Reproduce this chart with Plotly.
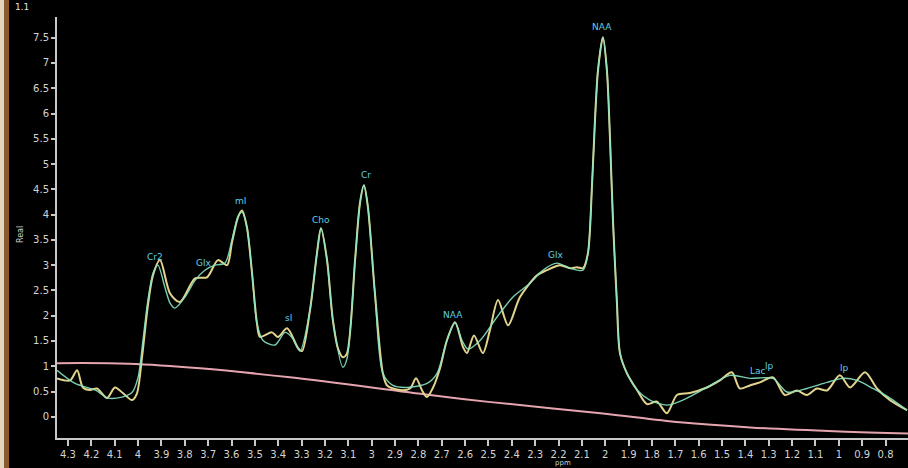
import plotly.graph_objects as go

# ---- data ----
fit_ppm = [4.347, 4.270, 4.184, 4.129, 4.069, 4.026, 4.000, 3.979, 3.958, 3.936,
           3.915, 3.885, 3.863, 3.842, 3.799, 3.756, 3.714, 3.671, 3.628, 3.598,
           3.572, 3.555, 3.534, 3.512, 3.491, 3.465, 3.414, 3.371, 3.341, 3.307,
           3.264, 3.234, 3.217, 3.191, 3.166, 3.123, 3.106, 3.071, 3.050, 3.033,
           3.016, 2.986, 2.952, 2.909, 2.849, 2.763, 2.720, 2.678, 2.643, 2.613,
           2.588, 2.536, 2.464, 2.395, 2.322, 2.267, 2.207, 2.151, 2.095, 2.074,
           2.057, 2.044, 2.031, 2.010, 1.993, 1.980, 1.967, 1.950, 1.937, 1.907,
           1.864, 1.809, 1.736, 1.668, 1.565, 1.466, 1.381, 1.282, 1.222, 1.137,
           1.051, 0.982, 0.922, 0.854, 0.781, 0.708]
fit_val = [0.92, 0.66, 0.53, 0.37, 0.39, 0.48, 0.78, 1.51, 2.30, 2.84,
           3.00, 2.56, 2.25, 2.15, 2.37, 2.70, 2.90, 3.00, 3.04, 3.50,
           3.96, 4.05, 3.75, 2.84, 1.85, 1.51, 1.42, 1.67, 1.57, 1.30,
           2.11, 3.24, 3.73, 3.10, 1.91, 0.98, 1.14, 3.10, 4.23, 4.58,
           4.15, 2.44, 0.86, 0.62, 0.58, 0.66, 0.86, 1.51, 1.86, 1.51,
           1.34, 1.51, 1.97, 2.37, 2.64, 2.90, 3.04, 2.94, 2.90, 3.24,
           4.55, 5.87, 6.86, 7.51, 6.86, 5.54, 3.89, 2.25, 1.26, 0.86,
           0.53, 0.33, 0.23, 0.33, 0.58, 0.82, 0.76, 0.76, 0.49, 0.56,
           0.68, 0.76, 0.72, 0.56, 0.37, 0.13]

data_ppm = [4.347, 4.291, 4.261, 4.236, 4.206, 4.176, 4.133, 4.099, 4.065, 4.026,
            4.005, 3.983, 3.958, 3.936, 3.906, 3.863, 3.821, 3.756, 3.705, 3.658,
            3.619, 3.598, 3.572, 3.555, 3.534, 3.512, 3.491, 3.478, 3.427, 3.401,
            3.362, 3.315, 3.298, 3.264, 3.234, 3.217, 3.191, 3.166, 3.144, 3.123,
            3.106, 3.071, 3.050, 3.033, 3.016, 2.986, 2.952, 2.934, 2.879, 2.836,
            2.810, 2.785, 2.763, 2.737, 2.708, 2.678, 2.643, 2.609, 2.592, 2.562,
            2.524, 2.494, 2.459, 2.416, 2.365, 2.292, 2.250, 2.194, 2.151, 2.121,
            2.095, 2.074, 2.057, 2.044, 2.031, 2.010, 1.993, 1.980, 1.967, 1.950,
            1.937, 1.907, 1.864, 1.821, 1.779, 1.736, 1.693, 1.638, 1.565, 1.509,
            1.458, 1.424, 1.381, 1.338, 1.282, 1.231, 1.179, 1.137, 1.094, 1.051,
            0.996, 0.952, 0.888, 0.837, 0.781, 0.708]
data_val = [0.76, 0.72, 0.92, 0.58, 0.53, 0.56, 0.37, 0.58, 0.47, 0.33,
            0.46, 1.18, 2.20, 2.80, 3.10, 2.44, 2.27, 2.74, 2.76, 3.10,
            3.00, 3.45, 3.95, 4.08, 3.75, 2.84, 1.85, 1.58, 1.67, 1.58,
            1.75, 1.36, 1.30, 2.11, 3.24, 3.73, 3.10, 1.91, 1.35, 1.18,
            1.25, 3.10, 4.23, 4.58, 4.15, 2.44, 0.86, 0.62, 0.53, 0.56,
            0.76, 0.53, 0.39, 0.58, 0.95, 1.51, 1.87, 1.38, 1.26, 1.61,
            1.26, 1.71, 2.31, 1.81, 2.37, 2.80, 2.90, 3.00, 2.94, 2.96,
            2.94, 3.24, 4.55, 5.87, 6.86, 7.51, 6.86, 5.54, 3.89, 2.25,
            1.26, 0.86, 0.53, 0.25, 0.30, 0.07, 0.43, 0.47, 0.58, 0.72,
            0.88, 0.56, 0.62, 0.68, 0.78, 0.43, 0.52, 0.43, 0.56, 0.52,
            0.82, 0.58, 0.88, 0.56, 0.33, 0.13]

base_ppm = [4.347, 4.04, 3.735, 3.35, 2.75, 2.49, 2.02, 1.68, 1.38, 0.995, 0.70]
base_val = [1.06, 1.05, 0.96, 0.78, 0.43, 0.29, 0.07, -0.11, -0.21, -0.29, -0.33]

peak_labels = ["Cr2", "Glx", "mI", "sI", "Cho", "Cr", "NAA", "Glx", "NAA", "Lac", "lp", "lp"]
peak_ppm = [3.928, 3.72, 3.56, 3.358, 3.217, 3.024, 2.652, 2.211, 2.014, 1.346, 1.295, 0.974]
peak_val = [3.16, 3.04, 4.27, 1.95, 3.89, 4.78, 2.01, 3.20, 7.71, 0.90, 1.00, 0.96]

x_ticks = [4.3, 4.2, 4.1, 4.0, 3.9, 3.8, 3.7, 3.6, 3.5, 3.4, 3.3, 3.2, 3.1, 3.0,
           2.9, 2.8, 2.7, 2.6, 2.5, 2.4, 2.3, 2.2, 2.1, 2.0, 1.9, 1.8, 1.7, 1.6,
           1.5, 1.4, 1.3, 1.2, 1.1, 1.0, 0.9, 0.8]
x_tick_text = ["4.3", "4.2", "4.1", "4", "3.9", "3.8", "3.7", "3.6", "3.5", "3.4", "3.3",
               "3.2", "3.1", "3", "2.9", "2.8", "2.7", "2.6", "2.5", "2.4", "2.3", "2.2",
               "2.1", "2", "1.9", "1.8", "1.7", "1.6", "1.5", "1.4", "1.3", "1.2", "1.1",
               "1", "0.9", "0.8"]
y_ticks = [0, 0.5, 1, 1.5, 2, 2.5, 3, 3.5, 4, 4.5, 5, 5.5, 6, 6.5, 7, 7.5]
y_tick_text = ["0", "0.5", "1", "1.5", "2", "2.5", "3", "3.5", "4", "4.5", "5", "5.5",
               "6", "6.5", "7", "7.5"]

fig = go.Figure()
fig.add_trace(go.Scatter(x=base_ppm, y=base_val, mode="lines",
                         line=dict(color="#e6a4ae", width=2, shape="spline"),
                         hoverinfo="skip"))
fig.add_trace(go.Scatter(x=data_ppm, y=data_val, mode="lines",
                         line=dict(color="#e2d48c", width=2, shape="spline", smoothing=0.8),
                         hoverinfo="skip"))
fig.add_trace(go.Scatter(x=fit_ppm, y=fit_val, mode="lines",
                         line=dict(color="#86e6c4", width=1.4, shape="spline", smoothing=0.8),
                         opacity=0.9, hoverinfo="skip"))

for t, px, py in zip(peak_labels, peak_ppm, peak_val):
    fig.add_annotation(x=px, y=py, text=t, showarrow=False, xref="x", yref="y",
                       xanchor="center", yanchor="middle",
                       font=dict(family="DejaVu Sans", size=9, color="#5fd0e6"))

W, H = 908, 468
ml, mr, mt, mb = 57, 0, 17, 30
pw = W - ml - mr
ph = H - mt - mb

def px2paper_x(p):
    return (p - ml) / pw

def px2paper_y(p):
    return (H - mb - p) / ph

fig.add_annotation(x=px2paper_x(21), y=px2paper_y(235), xref="paper", yref="paper",
                   text="Real", textangle=-90, showarrow=False,
                   xanchor="center", yanchor="middle",
                   font=dict(family="DejaVu Sans", size=8, color="#d0d0d0"))
fig.add_annotation(x=px2paper_x(563), y=px2paper_y(463), xref="paper", yref="paper",
                   text="ppm", showarrow=False,
                   xanchor="center", yanchor="middle",
                   font=dict(family="DejaVu Sans", size=7, color="#d0d0d0"))
fig.add_annotation(x=px2paper_x(22), y=px2paper_y(7), xref="paper", yref="paper",
                   text="1.1", showarrow=False,
                   xanchor="center", yanchor="middle",
                   font=dict(family="DejaVu Sans", size=9, color="#e0e0e0"))

# left border strips
fig.add_shape(type="rect", xref="paper", yref="paper",
              x0=px2paper_x(0), x1=px2paper_x(4), y0=px2paper_y(H), y1=px2paper_y(0),
              fillcolor="#e4d6be", line=dict(width=0), layer="above")
fig.add_shape(type="rect", xref="paper", yref="paper",
              x0=px2paper_x(4), x1=px2paper_x(9), y0=px2paper_y(H), y1=px2paper_y(0),
              fillcolor="#8a5a2e", line=dict(width=0), layer="above")

fig.update_layout(
    width=W, height=H,
    margin=dict(l=ml, r=mr, t=mt, b=mb, pad=0),
    paper_bgcolor="black", plot_bgcolor="black",
    showlegend=False,
    font=dict(family="DejaVu Sans", color="#d4d4d4"),
)
fig.update_xaxes(range=[4.347, 0.704], tickvals=x_ticks, ticktext=x_tick_text,
                 showline=True, linecolor="#c8c8c8", linewidth=2,
                 ticks="outside", ticklen=6, tickcolor="#c8c8c8", tickwidth=1.5,
                 showgrid=False, zeroline=False,
                 tickfont=dict(family="DejaVu Sans", size=10, color="#d4d4d4"))
fig.update_yaxes(range=[-0.42, 7.91], tickvals=y_ticks, ticktext=y_tick_text,
                 showline=True, linecolor="#c8c8c8", linewidth=2,
                 ticks="outside", ticklen=4, tickcolor="#c8c8c8", tickwidth=1.5,
                 showgrid=False, zeroline=False,
                 tickfont=dict(family="DejaVu Sans", size=10, color="#d4d4d4"))

fig.write_html("out.html",
               config={"displayModeBar": False},
               post_script="document.body.style.margin='0';document.body.style.overflow='hidden';document.body.style.background='black';")
